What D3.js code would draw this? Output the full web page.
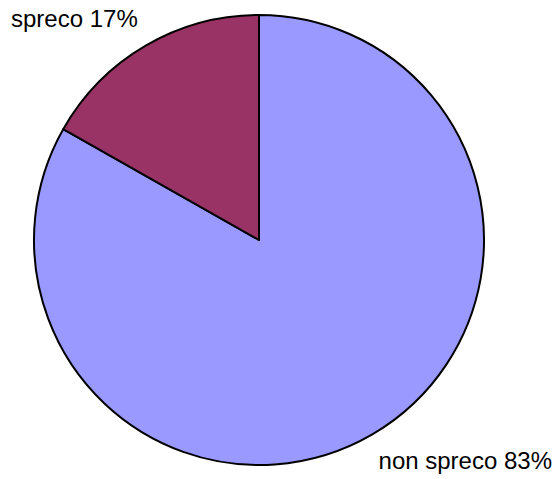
<!DOCTYPE html>
<html><head><meta charset="utf-8">
<script src="https://cdn.jsdelivr.net/npm/d3@7"></script>
<style>body{margin:0;background:#fff}</style>
</head><body>
<script>
const categories = ["non spreco", "spreco"];
const values = [83.2, 16.8];
const colors = ["#9999FF", "#993366"];

const W = 557, H = 479;
const svg = d3.select("body").append("svg").attr("width", W).attr("height", H);
const cx = 259, cy = 240, r = 225;

// first slice starts at 12 o'clock going clockwise
const pie = d3.pie().sort(null).value(d => d)
  .startAngle(0).endAngle(2 * Math.PI);
const arcs = pie(values);
const arc = d3.arc().innerRadius(0).outerRadius(r);

const g = svg.append("g").attr("transform", `translate(${cx},${cy})`);
g.selectAll("path").data(arcs).join("path")
  .attr("d", arc)
  .attr("fill", (d, i) => colors[i])
  .attr("stroke", "#000")
  .attr("stroke-width", 2)
  .attr("stroke-linejoin", "round");

const labels = [
  {text: categories[1] + " " + Math.round(values[1]) + "%", x: 11, y: 27, anchor: "start"},
  {text: categories[0] + " " + Math.round(values[0]) + "%", x: 552, y: 469, anchor: "end"}
];
svg.selectAll("text.lbl").data(labels).join("text")
  .attr("class", "lbl")
  .attr("x", d => d.x).attr("y", d => d.y)
  .attr("text-anchor", d => d.anchor)
  .attr("font-family", "Liberation Sans, Arial, sans-serif")
  .attr("font-size", 24)
  .attr("fill", "#000")
  .text(d => d.text);
</script>
</body></html>
